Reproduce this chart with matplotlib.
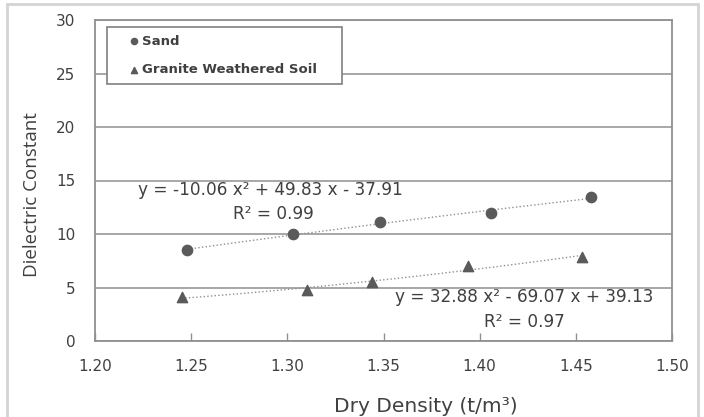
import numpy as np
import matplotlib
matplotlib.use("Agg")
import matplotlib.pyplot as plt
from matplotlib.patches import Rectangle

# Data
sand_x = [1.248, 1.303, 1.348, 1.406, 1.458]
sand_y = [8.5, 10.0, 11.1, 11.95, 13.45]
granite_x = [1.245, 1.310, 1.344, 1.394, 1.453]
granite_y = [4.1, 4.75, 5.5, 7.0, 7.85]

x_ticks = [1.20, 1.25, 1.30, 1.35, 1.40, 1.45, 1.50]
y_ticks = [0, 5, 10, 15, 20, 25, 30]

sand_eq = "y = -10.06 x² + 49.83 x - 37.91"
sand_r2 = "R² = 0.99"
granite_eq = "y = 32.88 x² - 69.07 x + 39.13"
granite_r2 = "R² = 0.97"

W, H = 704, 417
fig = plt.figure(figsize=(W / 100, H / 100), dpi=100)
fig.patch.set_facecolor("white")

# outer chart border
fig.patches.append(Rectangle((7 / W, -0.02), (698 - 7) / W, 1 - 4 / H + 0.02,
                             transform=fig.transFigure, fill=False,
                             edgecolor="#d4d4d4", linewidth=2))

L, R, T, B = 95, 672, 20, 341
ax = fig.add_axes([L / W, (H - B) / H, (R - L) / W, (B - T) / H])
ax.set_xlim(1.20, 1.50)
ax.set_ylim(0, 30)
ax.set_xticks(x_ticks)
ax.set_yticks(y_ticks)
ax.set_xticklabels([f"{v:.2f}" for v in x_ticks])
ax.set_yticklabels([str(v) for v in y_ticks])

text_col = "#404040"
ax.tick_params(axis="x", direction="in", length=6, width=1, color="#909090",
               labelsize=11, labelcolor=text_col, pad=13)
ax.tick_params(axis="y", length=0, labelsize=11, labelcolor=text_col, pad=14)

for s in ax.spines.values():
    s.set_color("#909090")
    s.set_linewidth(1.3)

ax.yaxis.grid(True, color="#a0a0a0", linewidth=1.3)
ax.set_axisbelow(True)

mcol = "#5a5a5a"
ax.scatter(sand_x, sand_y, marker="o", s=55, color=mcol, zorder=3, label="Sand")
ax.scatter(granite_x, granite_y, marker="^", s=55, color=mcol, zorder=3,
           label="Granite Weathered Soil")

# quadratic trendlines fitted to the data
for xs, ys in [(sand_x, sand_y), (granite_x, granite_y)]:
    c = np.polyfit(xs, ys, 2)
    xx = np.linspace(min(xs), max(xs), 100)
    ax.plot(xx, np.polyval(c, xx), linestyle=":", color="#909090", linewidth=1, zorder=2)

fs = 12.2
ax.text(1.2224, 14.1, sand_eq, fontsize=fs, color=text_col, va="center", ha="left")
ax.text(1.2718, 11.85, sand_r2, fontsize=fs, color=text_col, va="center", ha="left")
ax.text(1.356, 4.1, granite_eq, fontsize=fs, color=text_col, va="center", ha="left")
ax.text(1.4023, 1.78, granite_r2, fontsize=fs, color=text_col, va="center", ha="left")

lfs = 9.5
pw = R - L
ph = B - T
leg = ax.legend(loc="upper left",
                bbox_to_anchor=((107 - L) / pw, (B - 83) / ph, (342 - 107) / pw, (83 - 27) / ph),
                mode="expand",
                frameon=True, fancybox=False, edgecolor="#808080", framealpha=1,
                prop={"weight": "bold", "size": lfs}, labelcolor=text_col,
                markerscale=0.6, borderpad=0.58, labelspacing=1.2,
                handlelength=3.0, handletextpad=-0.9, borderaxespad=0)
leg.get_frame().set_linewidth(1.2)

ax.set_xlabel("Dry Density (t/m³)", fontsize=14.5, color=text_col, family="DejaVu Sans")
ax.xaxis.label.set_va("center")
ax.xaxis.set_label_coords((425.5 - L) / pw, (B - 406) / ph)
ax.set_ylabel("Dielectric Constant", fontsize=13.5, color=text_col, family="Open Sans")
ax.yaxis.label.set_va("center")
ax.yaxis.set_label_coords((32 - L) / pw, (B - 194.5) / ph)

fig.savefig("out.png", dpi=100)
